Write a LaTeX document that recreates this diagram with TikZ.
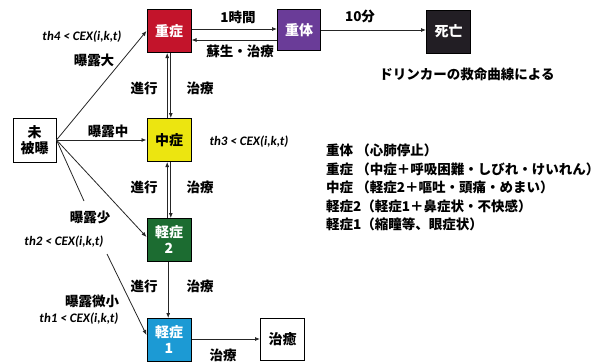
\documentclass[tikz,border=0pt]{standalone}
\usepackage{fontspec}
\setmainfont{Noto Sans CJK JP}
\newfontfamily\lat{Carlito}
\usetikzlibrary{arrows.meta}
\definecolor{cred}{HTML}{C3142B}
\definecolor{cpurple}{HTML}{6A3C98}
\definecolor{cblack}{HTML}{221E24}
\definecolor{cyellow}{HTML}{ECE510}
\definecolor{cgreen}{HTML}{1C6C31}
\definecolor{cblue}{HTML}{1C9AD4}
\tikzset{
  box/.style={draw=black,line width=1pt,minimum width=44pt,minimum height=43pt,inner sep=0pt,align=center,font=\fontsize{14}{16}\selectfont\bfseries},
  wbox/.style={box,text=white},
  lbl/.style={font=\fontsize{13.5}{15}\selectfont\bfseries,inner sep=0pt},
  th/.style={font=\lat\bfseries\itshape\fontsize{13}{15}\selectfont,inner sep=0pt},
  conn/.style={draw=black!85,line width=0.8pt},
  arr/.style={conn,-{Latex[length=5pt,width=4pt]}}
}
\begin{document}
\begin{tikzpicture}[x=1pt,y=-1pt]
\useasboundingbox (0,0) rectangle (614,362);
% nodes
\node[wbox,fill=cred] (jus) at (169,31) {重症};
\node[wbox,fill=cpurple,minimum width=43pt,minimum height=41pt] (jutai) at (299,30) {重体};
\node[wbox,fill=cblack] (shibo) at (448.5,31.5) {死亡};
\node[box,fill=cyellow] (chu) at (169,140) {中症};
\node[wbox,fill=cgreen] (kei2) at (169,240) {軽症\\2};
\node[wbox,fill=cblue] (kei1) at (169,340) {軽症\\1};
\node[box,fill=white,minimum height=42pt] (chiyu) at (282.5,339) {治癒};
\node[box,fill=white,minimum width=43pt,minimum height=44pt] (mi) at (34.5,140) {未\\被曝};
% top row
\draw[arr] ([yshift=2pt]jus.east) -- ([yshift=2pt]jus.east -| jutai.west);
\draw[arr] ([yshift=-9pt]jus.east -| jutai.west) -- ([yshift=-9pt]jus.east);
\draw[arr] (jutai.east) -- (jutai.east -| shibo.west);
\node[lbl] (l1h) at (238,17) {1時間};
\node[lbl] (lsosei) at (240,51) {蘇生・治療};
\node[lbl] (l10) at (360,16) {10分};
\node[lbl] (drink) at (467,74) {ドリンカーの救命曲線による};
% vertical
\draw[arr] ([xshift=-1.8pt]chu.north) -- ([xshift=-1.8pt]jus.south);
\draw[arr] ([xshift=1.8pt]jus.south) -- ([xshift=1.8pt]chu.north);
\draw[arr] ([xshift=-1.8pt]kei2.north) -- ([xshift=-1.8pt]chu.south);
\draw[arr] ([xshift=1.8pt]chu.south) -- ([xshift=1.8pt]kei2.north);
\draw[arr] ([xshift=-0.8pt]kei2.south) -- ([xshift=-0.8pt]kei1.north);
\draw[arr] (kei1.east |- chiyu.west) -- (chiyu.west);
\node[lbl] (s1) at (144,88) {進行};
\node[lbl] (t1) at (200,88) {治療};
\node[lbl] (s2) at (144,187) {進行};
\node[lbl] (t2) at (200,187) {治療};
\node[lbl] (s3) at (144,286) {進行};
\node[lbl] (t3) at (200,286) {治療};
\node[lbl] (t4) at (223,355) {治療};
% exposure
\coordinate (c3) at (84,201);
\coordinate (c4) at (107,254);
\draw[arr] (mi.east) -- (jus.west);
\draw[arr] (mi.east) -- (chu.west);
\draw[arr] (mi.east) -- ([yshift=3pt]kei2.west);
\draw[conn] (mi.east) -- (c3);
\draw[arr] (c4) -- ([yshift=5pt]kei1.west);
\node[th] (th4) at (82,37) {th4 < CEX(i,k,t)};
\node[lbl] (e4) at (94,60) {曝露大};
\node[lbl] (e3) at (108,131) {曝露中};
\node[th] (th3) at (249,142) {th3 < CEX(i,k,t)};
\node[lbl] (e2) at (90,217) {曝露少};
\node[th] (th2) at (64,242) {th2 < CEX(i,k,t)};
\node[lbl] (e1) at (92,301) {曝露微小};
\node[th] (th1) at (79,319) {th1 < CEX(i,k,t)};
% legend
\node[anchor=north west,align=left,inner sep=0pt,font=\fontsize{13.5}{18.5}\selectfont\bfseries] (leg) at (326,144) {重体 （心肺停止）\\重症 （中症＋呼吸困難・しびれ・けいれん）\\中症 （軽症2＋嘔吐・頭痛・めまい）\\軽症2（軽症1＋鼻症状・不快感）\\軽症1（縮瞳等、眼症状）};
\end{tikzpicture}
\end{document}
